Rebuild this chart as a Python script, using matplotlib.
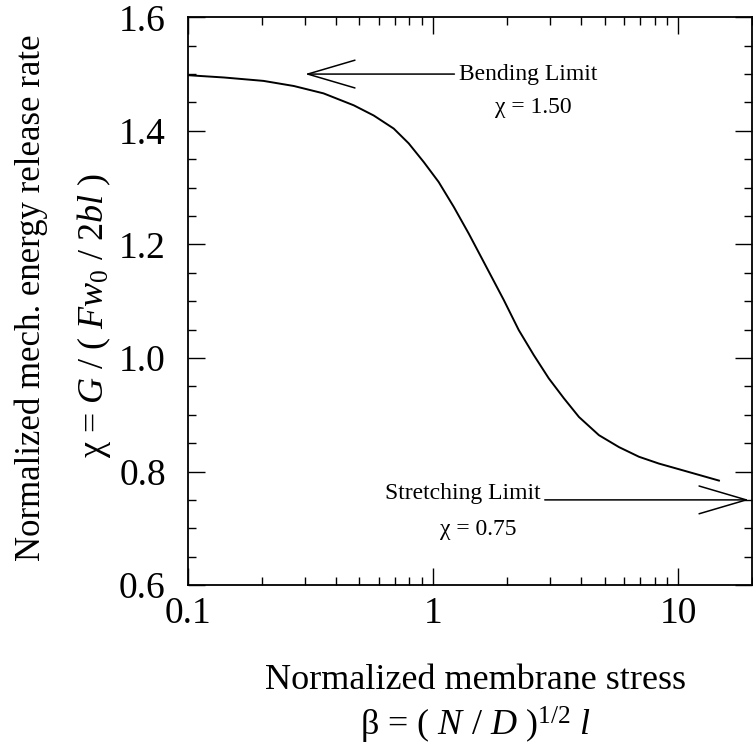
import matplotlib
matplotlib.use("Agg")
import matplotlib.pyplot as plt
from matplotlib.ticker import MultipleLocator, NullFormatter

plt.rcParams["font.family"] = "Liberation Serif"
plt.rcParams["mathtext.fontset"] = "custom"
plt.rcParams["mathtext.rm"] = "Liberation Serif"
plt.rcParams["mathtext.it"] = "Liberation Serif:italic"

# normalized membrane stress (beta) and energy release rate (chi)
beta = [0.100, 0.140, 0.203, 0.270, 0.357, 0.474, 0.572, 0.690, 0.794, 0.915,
        1.052, 1.213, 1.396, 1.607, 1.940, 2.233, 2.571, 2.960, 3.41, 3.93,
        4.74, 5.72, 6.90, 8.32, 10.05, 12.13, 14.63]
chi = [1.498, 1.494, 1.488, 1.479, 1.466, 1.445, 1.427, 1.404, 1.378, 1.345,
       1.310, 1.266, 1.219, 1.169, 1.102, 1.049, 1.005, 0.964, 0.929, 0.896,
       0.864, 0.843, 0.826, 0.814, 0.804, 0.794, 0.784]

bending_limit = 1.50
stretching_limit = 0.75

x_ticks = [0.1, 1, 10]
x_tick_labels = ["0.1", "1", "10"]
y_ticks = [0.6, 0.8, 1.0, 1.2, 1.4, 1.6]

fig = plt.figure(figsize=(7.53, 7.52), dpi=100)
ax = fig.add_axes([0.2497, 0.222, 0.7493, 0.755])

ax.plot(beta, chi, color="black", lw=1.4)

ax.set_xscale("log")
ax.set_xlim(0.1, 20)
ax.set_ylim(0.6, 1.6)
ax.set_xticks(x_ticks)
ax.set_xticklabels(x_tick_labels)
ax.xaxis.set_minor_formatter(NullFormatter())
ax.set_yticks(y_ticks)
ax.set_yticklabels([f"{v:.1f}" for v in y_ticks])
ax.yaxis.set_minor_locator(MultipleLocator(0.05))

ax.tick_params(which="both", direction="in", top=True, right=True,
               labelsize=27, width=1)
ax.tick_params(axis="y", pad=16)
ax.tick_params(axis="x", pad=8)
ax.tick_params(which="major", length=12)
ax.tick_params(which="minor", length=6)
for sp in ax.spines.values():
    sp.set_linewidth(1.3)

# limit annotations
arrow = dict(arrowstyle="->,head_length=1.7,head_width=0.5", color="black",
             lw=1.1, mutation_scale=20, shrinkA=0, shrinkB=0)
ax.annotate("", xy=(0.30, bending_limit), xytext=(1.22, bending_limit), arrowprops=arrow)
ax.text(1.27, bending_limit, "Bending Limit", fontsize=17, va="center", ha="left")
ax.text(2.55, 1.442, "χ = 1.50", fontsize=17, va="center", ha="center")

ax.annotate("", xy=(19.4, stretching_limit), xytext=(2.85, stretching_limit), arrowprops=arrow)
ax.text(2.75, 0.762, "Stretching Limit", fontsize=17, va="center", ha="right")
ax.text(1.52, 0.697, "χ = 0.75", fontsize=17, va="center", ha="center")

# axis titles
fig.text(0.632, 0.095, "Normalized membrane stress", fontsize=26, ha="center", va="center")
fig.text(0.632, 0.008, "β = ( $N$ / $D$ $)^{1/2}$ $l$", fontsize=26, ha="center", va="bottom")
fig.text(0.042, 0.604, "Normalized mech. energy release rate", fontsize=25,
         rotation=90, ha="center", va="center")
fig.text(0.125, 0.58, "χ = $G$ / ( $Fw_0$ / 2$bl$ )", fontsize=26,
         rotation=90, ha="center", va="center")

fig.savefig("out.png", dpi=100)
